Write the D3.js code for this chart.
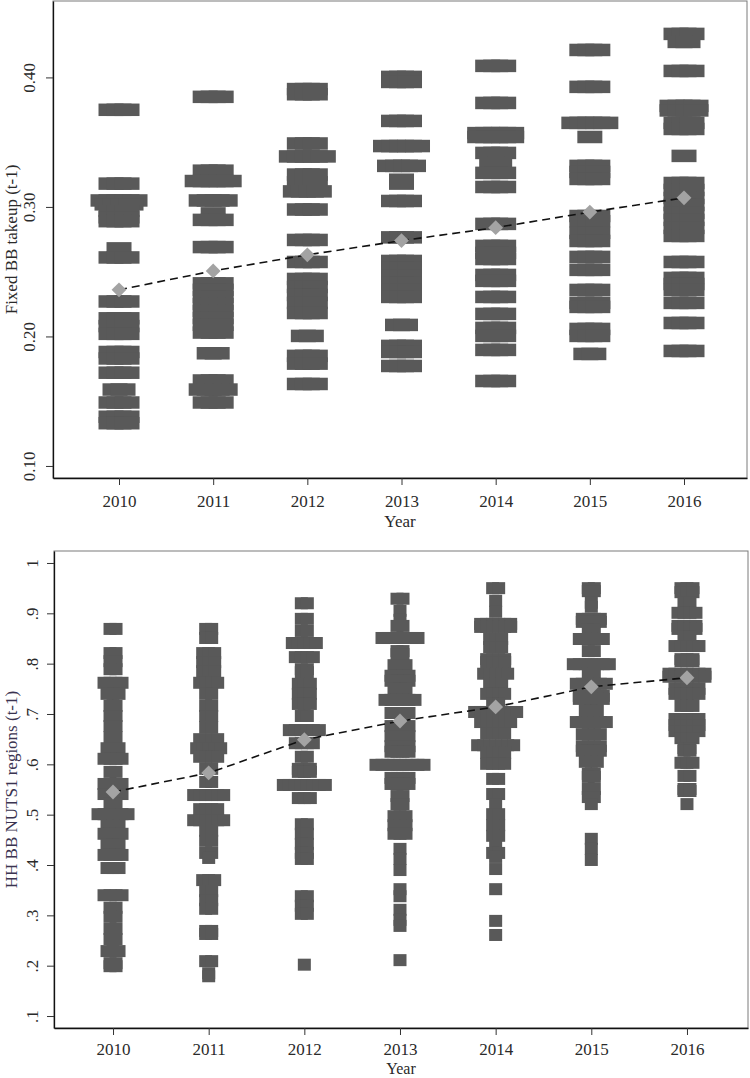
<!DOCTYPE html>
<html><head><meta charset="utf-8">
<script src="https://cdn.jsdelivr.net/npm/d3@7"></script>
<style>
body{margin:0;background:#fff}
svg{display:block}
text{font-family:"Liberation Serif","Times New Roman",serif;}
</style>
</head><body>
<script>
// ---------- data ----------
const years = [2010, 2011, 2012, 2013, 2014, 2015, 2016];
const yearLabels = ["2010", "2011", "2012", "2013", "2014", "2015", "2016"];

const fixedTicks = [0.10, 0.20, 0.30, 0.40];
const fixedTickLabels = ["0.10", "0.20", "0.30", "0.40"];
const hhTicks = [0.1, 0.2, 0.3, 0.4, 0.5, 0.6, 0.7, 0.8, 0.9, 1];
const hhTickLabels = [".1", ".2", ".3", ".4", ".5", ".6", ".7", ".8", ".9", "1"];

// yearly means (diamonds)
const fixedMeans = [0.236, 0.2506, 0.263, 0.274, 0.284, 0.296, 0.307];
const hhMeans = [0.545, 0.583, 0.649, 0.686, 0.714, 0.754, 0.772];

// observations: [value, number of observations at that value]
const fixed2010 = [[0.375,3],[0.318,3],[0.305,5],[0.302,4],[0.297,3],[0.292,3],[0.289,3],[0.268,1],[0.261,3],[0.227,3],[0.214,3],[0.208,3],[0.202,3],[0.188,3],[0.183,3],[0.172,3],[0.159,2],[0.149,3],[0.138,3],[0.133,3]];
const fixed2011 = [[0.385,3],[0.328,3],[0.320,5],[0.305,4],[0.295,1],[0.290,3],[0.269,3],[0.241,3],[0.236,3],[0.2305,3],[0.225,3],[0.2197,3],[0.2143,3],[0.209,3],[0.203,3],[0.187,2],[0.166,3],[0.159,4],[0.149,3]];
const fixed2012 = [[0.391,3],[0.387,3],[0.349,3],[0.339,5],[0.325,3],[0.319,3],[0.312,4],[0.298,3],[0.2745,3],[0.2575,3],[0.2444,3],[0.2382,3],[0.232,3],[0.2259,3],[0.2181,3],[0.2004,2],[0.185,3],[0.179,3],[0.1633,3]];
const fixed2013 = [[0.4004,3],[0.3965,3],[0.3664,3],[0.347,5],[0.3317,4],[0.321,1],[0.318,1],[0.3046,3],[0.2765,3],[0.2583,3],[0.2529,3],[0.2467,3],[0.2413,3],[0.2359,3],[0.2305,3],[0.2089,2],[0.1927,3],[0.188,3],[0.1772,3]];
const fixed2014 = [[0.4089,3],[0.3803,3],[0.357,5],[0.354,5],[0.3417,3],[0.334,2],[0.3263,3],[0.3154,3],[0.2869,3],[0.2699,3],[0.2645,3],[0.2598,3],[0.2475,3],[0.2429,3],[0.2305,3],[0.2174,3],[0.2066,3],[0.2004,3],[0.1896,3],[0.1656,3]];
const fixed2015 = [[0.4212,3],[0.3927,3],[0.3649,5],[0.354,1],[0.3317,3],[0.327,3],[0.3216,3],[0.293,3],[0.289,3],[0.280,3],[0.2737,3],[0.2614,3],[0.2514,3],[0.2359,3],[0.2259,3],[0.2228,3],[0.2058,3],[0.2004,3],[0.1865,2]];
const fixed2016 = [[0.4336,3],[0.4274,2],[0.405,3],[0.378,4],[0.3745,4],[0.3649,3],[0.3602,3],[0.3394,1],[0.3185,3],[0.3131,3],[0.3069,3],[0.3015,3],[0.2954,3],[0.29,3],[0.2838,3],[0.2776,3],[0.2575,3],[0.2452,3],[0.2405,3],[0.2359,3],[0.2259,3],[0.2104,3],[0.1888,3]];

const hh2010 = [[0.869,2],[0.821,2],[0.805,2],[0.789,2],[0.762,4],[0.740,3],[0.716,2],[0.696,2],[0.676,2],[0.654,2],[0.632,3],[0.611,4],[0.585,2],[0.561,4],[0.541,4],[0.523,2],[0.501,6],[0.479,3],[0.462,4],[0.440,3],[0.420,4],[0.394,3],[0.340,4],[0.315,2],[0.297,2],[0.273,2],[0.253,2],[0.229,3],[0.205,2],[0.199,2]];
const hh2011 = [[0.869,2],[0.851,2],[0.821,3],[0.803,3],[0.785,3],[0.762,4],[0.740,2],[0.716,2],[0.696,2],[0.674,2],[0.650,4],[0.632,5],[0.615,4],[0.591,2],[0.565,2],[0.539,6],[0.511,4],[0.489,6],[0.468,2],[0.448,2],[0.424,2],[0.414,1],[0.370,3],[0.348,2],[0.330,2],[0.313,2],[0.269,2],[0.263,2],[0.209,2],[0.185,1],[0.179,1]];
const hh2012 = [[0.920,2],[0.889,2],[0.865,2],[0.841,5],[0.813,4],[0.789,2],[0.783,2],[0.760,3],[0.740,3],[0.720,3],[0.696,2],[0.668,6],[0.642,4],[0.615,2],[0.591,3],[0.585,3],[0.559,8],[0.533,3],[0.481,2],[0.462,2],[0.442,2],[0.424,2],[0.412,2],[0.338,2],[0.319,2],[0.303,2],[0.202,1]];
const hh2013 = [[0.929,2],[0.905,1],[0.887,1],[0.875,2],[0.851,7],[0.825,2],[0.819,2],[0.797,3],[0.776,4],[0.766,4],[0.750,3],[0.728,6],[0.702,4],[0.676,4],[0.656,4],[0.636,4],[0.625,4],[0.599,9],[0.573,4],[0.561,4],[0.537,2],[0.521,2],[0.497,3],[0.479,3],[0.462,3],[0.432,1],[0.412,1],[0.390,1],[0.352,1],[0.338,1],[0.311,1],[0.291,1],[0.279,1],[0.211,1]];
const hh2014 = [[0.950,2],[0.925,1],[0.903,1],[0.879,6],[0.873,6],[0.849,3],[0.833,3],[0.809,4],[0.803,4],[0.780,5],[0.760,3],[0.740,4],[0.720,2],[0.704,8],[0.684,6],[0.662,4],[0.638,7],[0.623,4],[0.601,4],[0.571,2],[0.541,2],[0.521,1],[0.501,2],[0.479,2],[0.458,2],[0.438,1],[0.424,2],[0.416,1],[0.392,1],[0.352,1],[0.289,1],[0.261,1]];
const hh2015 = [[0.950,2],[0.944,2],[0.921,1],[0.913,1],[0.889,4],[0.883,4],[0.867,2],[0.849,5],[0.825,2],[0.799,7],[0.780,2],[0.760,6],[0.736,5],[0.730,5],[0.706,3],[0.684,6],[0.660,4],[0.636,4],[0.627,4],[0.605,3],[0.581,2],[0.575,2],[0.551,2],[0.535,2],[0.521,1],[0.452,1],[0.432,1],[0.410,1]];
const hh2016 = [[0.950,3],[0.942,3],[0.922,2],[0.901,4],[0.875,4],[0.869,4],[0.853,2],[0.835,5],[0.809,3],[0.805,3],[0.780,7],[0.774,7],[0.750,5],[0.740,5],[0.716,3],[0.690,5],[0.678,5],[0.666,5],[0.652,3],[0.632,2],[0.627,2],[0.603,3],[0.577,2],[0.551,2],[0.547,2],[0.521,1]];

const fixedByYear = [fixed2010, fixed2011, fixed2012, fixed2013, fixed2014, fixed2015, fixed2016];
const hhByYear = [hh2010, hh2011, hh2012, hh2013, hh2014, hh2015, hh2016];

// ---------- drawing ----------
const W = 750, H = 1078;
const svg = d3.select("body").append("svg").attr("width", W).attr("height", H);

const MARK = "#595959", MEAN = "#a3a3a3", TXT = "#2a2a2a";
const FONT = '"Liberation Serif","Times New Roman",serif';

function panel(cfg) {
  const g = svg.append("g");
  const x = d3.scaleLinear().domain(cfg.xDomain).range([cfg.left, cfg.right]);
  const y = d3.scaleLinear().domain(cfg.yDomain).range([cfg.bottom, cfg.top]);

  // plot frame (top/right light)
  g.append("rect").attr("x", cfg.left).attr("y", cfg.top)
    .attr("width", cfg.right - cfg.left).attr("height", cfg.bottom - cfg.top)
    .attr("fill", "none").attr("stroke", "#7a7a7a").attr("stroke-width", 1);

  // flatten observations into marker positions
  const pts = [];
  cfg.data.forEach((rows, i) => {
    rows.forEach(([v, c]) => {
      for (let k = 0; k < c; k++) {
        pts.push({ year: years[i], v, off: (k - (c - 1) / 2) * cfg.step });
      }
    });
  });

  g.append("g").selectAll("rect").data(pts).join("rect")
    .attr("x", d => x(d.year) + d.off - cfg.mw / 2)
    .attr("y", d => y(d.v) - cfg.mh / 2)
    .attr("width", cfg.mw).attr("height", cfg.mh)
    .attr("fill", MARK);

  // mean line
  const means = years.map((yr, i) => ({ year: yr, v: cfg.means[i] }));
  g.append("path").datum(means)
    .attr("d", d3.line().x(d => x(d.year)).y(d => y(d.v)))
    .attr("fill", "none").attr("stroke", "#111").attr("stroke-width", 1.6)
    .attr("stroke-dasharray", "8,5");

  const sq = d3.symbol().type(d3.symbolSquare).size(110);
  g.append("g").selectAll("path").data(means).join("path")
    .attr("d", sq)
    .attr("transform", d => `translate(${x(d.year)},${y(d.v)}) rotate(45)`)
    .attr("fill", MEAN);

  // axes
  const ax = g.append("g").attr("transform", `translate(0,${cfg.bottom})`)
    .call(d3.axisBottom(x).tickValues(years).tickFormat((d, i) => yearLabels[i])
      .tickSize(7).tickSizeOuter(0));
  ax.selectAll("text").attr("y", cfg.xLabelOff).attr("dy", 0)
    .attr("font-size", 17).attr("fill", TXT).style("font-family", FONT);

  const ay = g.append("g").attr("transform", `translate(${cfg.left},0)`)
    .call(d3.axisLeft(y).tickValues(cfg.yTicks).tickFormat((d, i) => cfg.yTickLabels[i])
      .tickSize(7).tickSizeOuter(0));
  ay.selectAll("text").attr("transform", "rotate(-90)")
    .attr("x", 0).attr("y", -cfg.yLabelOff).attr("dy", 0)
    .attr("text-anchor", "middle").attr("font-size", 17).attr("fill", TXT)
    .style("font-family", FONT);

  [ax, ay].forEach(a => {
    a.select(".domain").attr("stroke", "#111").attr("stroke-width", 1.3);
    a.selectAll(".tick line").attr("stroke", "#333").attr("stroke-width", 1);
  });

  // axis titles
  g.append("text").attr("x", (cfg.left + cfg.right) / 2).attr("y", cfg.yearBase)
    .attr("text-anchor", "middle").attr("font-size", cfg.yearSize).attr("fill", TXT).text("Year");
  g.append("text")
    .attr("transform", `translate(${cfg.titleX},${(cfg.top + cfg.bottom) / 2}) rotate(-90)`)
    .attr("text-anchor", "middle").attr("font-size", 17).attr("fill", cfg.titleColor)
    .text(cfg.title);
}

panel({
  left: 53, right: 747, top: 1, bottom: 478,
  xDomain: [2009.299, 2016.669], yDomain: [0.0907, 0.459],
  yTicks: fixedTicks, yTickLabels: fixedTickLabels,
  data: fixedByYear, means: fixedMeans,
  mw: 25, mh: 12.5, step: 8,
  xLabelOff: 29, yLabelOff: 18, yearBase: 527, yearSize: 17, titleX: 17,
  title: "Fixed BB takeup (t-1)", titleColor: TXT
});

panel({
  left: 54, right: 748, top: 551, bottom: 1028,
  xDomain: [2009.383, 2016.638], yDomain: [0.0762, 1.0238],
  yTicks: hhTicks, yTickLabels: hhTickLabels,
  data: hhByYear, means: hhMeans,
  mw: 13, mh: 12, step: 6,
  xLabelOff: 27, yLabelOff: 16, yearBase: 1074, yearSize: 16, titleX: 17,
  title: "HH BB NUTS1 regions (t-1)", titleColor: "#3a3350"
});
</script>
</body></html>
